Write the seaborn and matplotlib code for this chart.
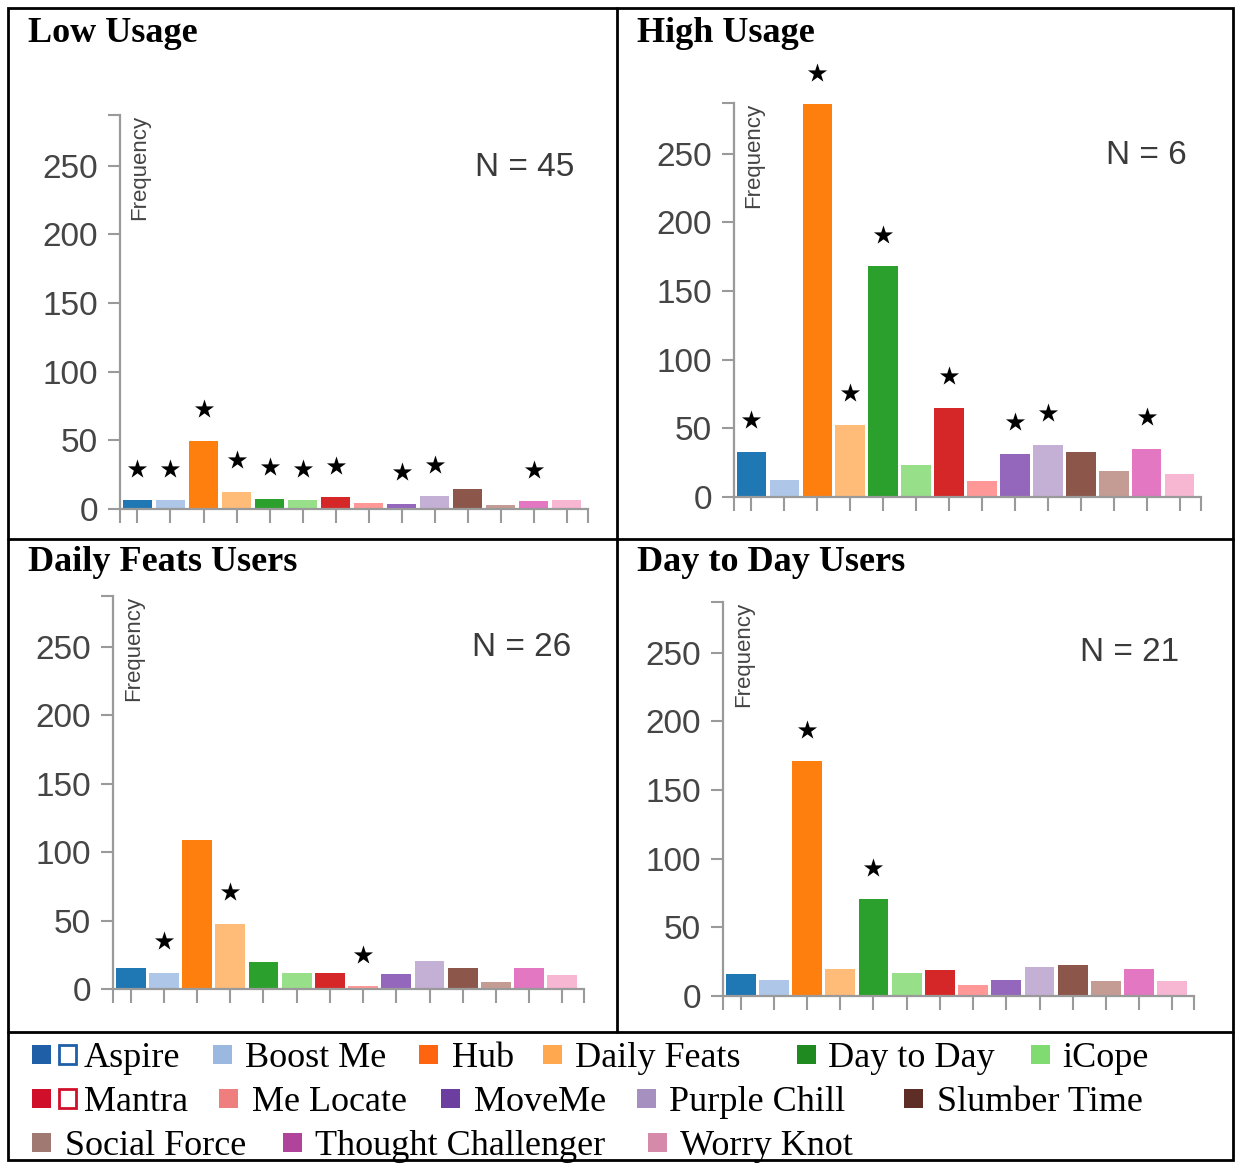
import numpy as np
import pandas as pd
import matplotlib
matplotlib.use("Agg")
import matplotlib.pyplot as plt
from matplotlib.patches import Rectangle
import seaborn as sns

# ---------------- data ----------------
categories = ["Aspire", "Boost Me", "Hub", "Daily Feats", "Day to Day", "iCope",
              "Mantra", "Me Locate", "MoveMe", "Purple Chill", "Slumber Time",
              "Social Force", "Thought Challenger", "Worry Knot"]

low_usage = [6.5, 6.5, 49.5, 12.5, 7.5, 6.5, 8.5, 4.5, 3.6, 9.3, 14.6, 3.2, 5.6, 6.3]
high_usage = [33, 12.5, 286, 52.5, 168, 23, 65, 12, 31.5, 38, 33, 19, 35, 17]
daily_feats_users = [15, 12, 109, 47.5, 20, 11.7, 11.7, 2, 11.2, 20.7, 15.3, 4.9, 15.3, 10]
day_to_day_users = [16, 12, 171, 19.4, 70.5, 17, 18.7, 8, 12, 21.4, 22.6, 11, 19.4, 11]

low_stars = ["Aspire", "Boost Me", "Hub", "Daily Feats", "Day to Day", "iCope",
             "Mantra", "MoveMe", "Purple Chill", "Thought Challenger"]
high_stars = ["Aspire", "Hub", "Daily Feats", "Day to Day", "Mantra", "MoveMe",
              "Purple Chill", "Thought Challenger"]
daily_stars = ["Boost Me", "Daily Feats", "Me Locate"]
d2d_stars = ["Hub", "Day to Day"]

panel_titles = ["Low Usage", "High Usage", "Daily Feats Users", "Day to Day Users"]
panel_n = ["N = 45", "N = 6", "N = 26", "N = 21"]
y_ticks = [0, 50, 100, 150, 200, 250]
y_top = 287

bar_colors = sns.color_palette("tab20", 14)
legend_colors = ["#1f5fa8", "#9ab8e0", "#ff6410", "#ffa850", "#1f8a1f", "#80dc70",
                 "#d0102a", "#ef7f7f", "#6c3ea0", "#a690c0", "#5e2e26", "#a07a72",
                 "#b0449a", "#d68aaa"]
legend_outline = {"Aspire": "#1f5fa8", "Mantra": "#d0102a"}

# ---------------- layout ----------------
W, H = 1238, 1163
sns.set_theme(style="white")
plt.rcParams["font.family"] = ["Liberation Sans", "DejaVu Sans"]
fig = plt.figure(figsize=(W / 100, H / 100), dpi=100)

# background axes in pixel coordinates for borders, titles and legend
bg = fig.add_axes([0, 0, 1, 1], zorder=0)
bg.set_xlim(0, W)
bg.set_ylim(H, 0)
bg.axis("off")
bg.patch.set_alpha(0)

lw_border = 2.0
bg.add_patch(Rectangle((8, 8), 1225, 1152, fill=False, ec="black", lw=lw_border))
bg.plot([617, 617], [8, 1032], color="black", lw=lw_border)
bg.plot([8, 1233], [539, 539], color="black", lw=lw_border)
bg.plot([8, 1233], [1032, 1032], color="black", lw=lw_border)

title_pos = [(28, 42), (637, 42), (28, 571), (637, 571)]
for t, (tx, ty) in zip(panel_titles, title_pos):
    bg.text(tx, ty, t, fontsize=26, fontweight="bold", family="Liberation Serif",
            va="baseline", ha="left", color="black")

# axes rectangles in pixels: left, right, top, bottom
rects = [(120, 588, 115, 509), (734, 1201, 103, 497),
         (113, 584, 596, 989), (723, 1194, 602, 996)]
n_pos = [(0.865, 0.868), (0.882, 0.868), (0.868, 0.870), (0.864, 0.871)]
panel_values = [low_usage, high_usage, daily_feats_users, day_to_day_users]
panel_stars = [low_stars, high_stars, daily_stars, d2d_stars]

axis_gray = "#9a9a9a"
star_offset = 23

for vals, stars, (l, r, t, b), (nx, ny), ntxt in zip(panel_values, panel_stars, rects, n_pos, panel_n):
    ax = fig.add_axes([l / W, (H - b) / H, (r - l) / W, (b - t) / H], zorder=2)
    ax.patch.set_alpha(0)
    df = pd.DataFrame({"app": categories, "freq": vals})
    sns.barplot(data=df, x="app", y="freq", hue="app", palette=bar_colors,
                order=categories, hue_order=categories, legend=False,
                width=0.9, linewidth=0, saturation=1, ax=ax)
    idx = [categories.index(c) for c in stars]
    sy = [vals[i] + star_offset for i in idx]
    ax.scatter(idx, sy, marker="*", s=210, color="black", zorder=5, linewidths=0,
               clip_on=False)

    xmin, xmax = -0.53, 13.65
    ax.set_xlim(xmin, xmax)
    ax.set_ylim(0, y_top)
    ax.set_xlabel("")
    ax.set_ylabel("")
    for side in ["top", "right"]:
        ax.spines[side].set_visible(False)
    for side in ["left", "bottom"]:
        ax.spines[side].set_color(axis_gray)
        ax.spines[side].set_linewidth(1.6)
    ax.set_xticks(range(len(categories)))
    ax.set_xticklabels([""] * len(categories))
    ax.set_xticks([xmin, xmax], minor=True)
    ax.set_yticks(y_ticks)
    ax.set_yticklabels([str(v) for v in y_ticks])
    ax.set_yticks([y_top], minor=True)
    ax.tick_params(axis="x", which="both", direction="out", length=10, width=1.5,
                   color=axis_gray, bottom=True)
    ax.tick_params(axis="y", which="both", direction="out", length=9, width=1.5,
                   color=axis_gray, left=True, labelsize=24, labelcolor="#454545", pad=7)
    ax.text(0.043, 1.0, "Frequency", transform=ax.transAxes, rotation=90,
            ha="center", va="top", fontsize=16, color="#444444")
    ax.text(nx, ny, ntxt, transform=ax.transAxes, ha="center", va="center",
            fontsize=24, color="#3a3a3a")

# ---------------- legend ----------------
legend_rows = [
    [("Aspire", 32, 84), ("Boost Me", 213, 245), ("Hub", 419, 452),
     ("Daily Feats", 543, 575), ("Day to Day", 797, 828), ("iCope", 1031, 1062)],
    [("Mantra", 32, 84), ("Me Locate", 219, 252), ("MoveMe", 441, 474),
     ("Purple Chill", 637, 669), ("Slumber Time", 904, 937)],
    [("Social Force", 32, 65), ("Thought Challenger", 283, 315), ("Worry Knot", 648, 680)],
]
row_y = [1054, 1098, 1142]
sq = 19
for row, yc in zip(legend_rows, row_y):
    for name, sx, tx in row:
        col = legend_colors[categories.index(name)]
        bg.add_patch(Rectangle((sx, yc - sq / 2), sq, sq, color=col, lw=0))
        if name in legend_outline:
            bg.add_patch(Rectangle((sx + 27, yc - sq / 2), sq - 2, sq, fill=False,
                                   ec=legend_outline[name], lw=2))
        bg.text(tx, yc + 13, name, fontsize=26, family="Liberation Serif",
                va="baseline", ha="left", color="black")

fig.savefig("out.png", dpi=100)
